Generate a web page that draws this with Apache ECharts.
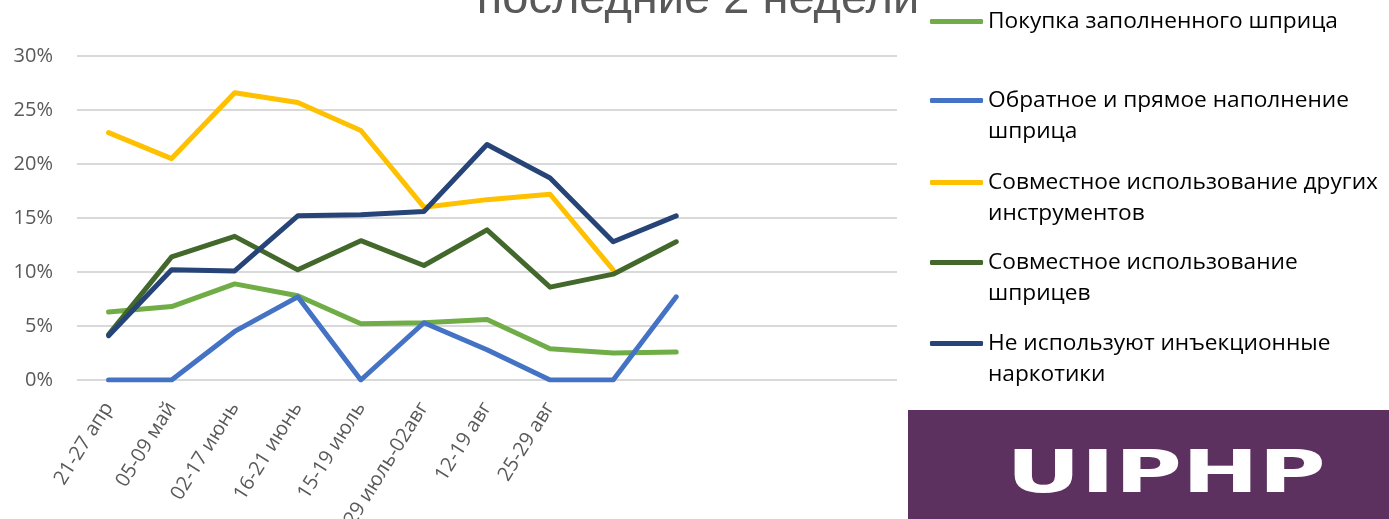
<!DOCTYPE html>
<html>
<head>
<meta charset="utf-8">
<script src="https://cdn.jsdelivr.net/npm/echarts@6/dist/echarts.min.js"></script>
<style>
html, body { margin: 0; padding: 0; background: #fff; }
#chart { width: 1389px; height: 519px; }
</style>
</head>
<body>
<div id="chart"></div>
<script>
// категории (последние ячейки без подписи, как в исходнике)
var periods = ['21-27 апр', '05-09 май', '02-17 июнь', '16-21 июнь', '15-19 июль',
  '29 июль-02авг', '12-19 авг', '25-29 авг', '', '', '', '', ''];

var names = ['Покупка заполненного шприца', 'Обратное и прямое наполнение шприца',
  'Совместное использование других инструментов', 'Совместное использование шприцев',
  'Не используют инъекционные наркотики'];
var legendText = ['Покупка заполненного шприца', 'Обратное и прямое наполнение\nшприца',
  'Совместное использование других\nинструментов', 'Совместное использование\nшприцев',
  'Не используют инъекционные\nнаркотики'];

// значения, %
var buyFilled   = [6.3, 6.8, 8.9, 7.8, 5.2, 5.3, 5.6, 2.9, 2.5, 2.6];
var backFront   = [0, 0, 4.5, 7.7, 0, 5.3, 2.8, 0, 0, 7.7];
var sharedOther = [22.9, 20.5, 26.6, 25.7, 23.1, 16.0, 16.7, 17.2, 10.2];
var sharedSyr   = [4.2, 11.4, 13.3, 10.2, 12.9, 10.6, 13.9, 8.6, 9.8, 12.8];
var nonInject   = [4.1, 10.2, 10.1, 15.2, 15.3, 15.6, 21.8, 18.7, 12.8, 15.2];

var yMin = 0, yMax = 30, yStep = 5;

var colors = ['#70AD47', '#4472C4', '#FFC000', '#43682B', '#264478'];
var allData = [buyFilled, backFront, sharedOther, sharedSyr, nonInject];
var legendTop = [21, 100, 182, 262, 343];

var chartDom = document.getElementById('chart');
var myChart = echarts.init(chartDom);
var font = '"Open Sans", "Liberation Sans", sans-serif';

var series = [];
var legends = [];
names.forEach(function (n, i) {
  series.push({
    name: n,
    type: 'line',
    data: allData[i],
    showSymbol: false,
    symbol: 'none',
    color: colors[i],
    lineStyle: { width: 5, color: colors[i], cap: 'round', join: 'round' }
  });
  var lines = legendText[i].split('\n').length;
  legends.push({
    data: [n],
    orient: 'vertical',
    left: 930,
    top: legendTop[i] - 15 - (lines - 1) * 31,
    padding: 0,
    icon: 'roundRect',
    itemWidth: 53,
    itemHeight: 5,
    selectedMode: false,
    formatter: function () { return lines > 1 ? '\n' + legendText[i] : legendText[i]; },
    textStyle: { fontFamily: font, fontSize: 22.7, color: '#000', lineHeight: 31 }
  });
});

var option = {
  animation: false,
  color: colors,
  grid: { left: 77, right: 492, top: 56, bottom: 139, containLabel: false, outerBoundsMode: 'none' },
  legend: legends,
  xAxis: {
    type: 'category',
    data: periods,
    boundaryGap: true,
    axisLine: { show: false },
    axisTick: { show: false },
    axisLabel: {
      interval: 0,
      rotate: 58,
      margin: 24,
      fontFamily: font,
      fontSize: 20,
      color: '#595959'
    }
  },
  yAxis: {
    type: 'value',
    min: yMin,
    max: yMax,
    interval: yStep,
    axisLine: { show: false },
    axisTick: { show: false },
    axisLabel: {
      formatter: '{value}%',
      margin: 24,
      fontFamily: font,
      fontSize: 20,
      color: '#595959'
    },
    splitLine: { lineStyle: { color: '#D9D9D9', width: 2 } }
  },
  graphic: [
    {
      type: 'text',
      x: 698,
      y: 0,
      style: {
        text: 'последние 2 недели',
        fontFamily: '"Liberation Sans", sans-serif',
        fontSize: 47,
        fill: '#595959',
        align: 'center',
        verticalAlign: 'middle'
      }
    },
    {
      type: 'rect',
      shape: { x: 908, y: 410, width: 481, height: 109 },
      style: { fill: '#5C3160' }
    },
    {
      type: 'text',
      x: 1166,
      y: 477,
      scaleX: 1.58,
      style: {
        text: 'UIPHP',
        fontFamily: '"DejaVu Sans", sans-serif',
        fontWeight: 'bold',
        fontSize: 58,
        fill: '#fff',
        align: 'center',
        verticalAlign: 'middle'
      }
    }
  ],
  series: series
};

myChart.setOption(option);
</script>
</body>
</html>
